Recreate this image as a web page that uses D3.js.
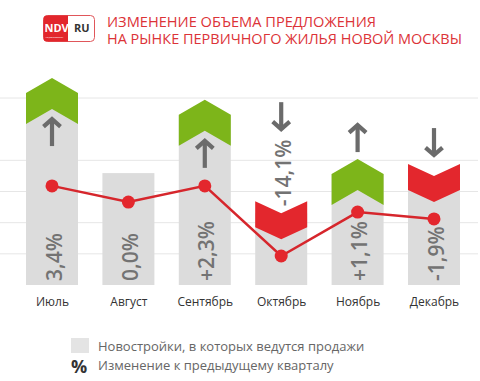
<!DOCTYPE html>
<html><head><meta charset="utf-8">
<script src="https://cdn.jsdelivr.net/npm/d3@7/dist/d3.min.js"></script>
<style>html,body{margin:0;padding:0;background:#fff;}svg{display:block;}</style>
</head><body>
<script>
const months = ["Июль","Август","Сентябрь","Октябрь","Ноябрь","Декабрь"];
const supply = [66.4, 35.9, 59.4, 26.9, 40.4, 38.8];      // column top (incl. chevron)
const change = [3.4, 0.0, 2.3, -14.1, 1.1, -1.9];
const changeLabels = ["3,4%","0,0%","+2,3%","-14,1%","+1,1%","-1,9%"];
const lineValues = [31.8, 26.6, 31.8, 9.3, 23.4, 21.2];
const gridTicks = [10, 20, 30, 40, 60];
const titleLines = ["ИЗМЕНЕНИЕ ОБЪЕМА ПРЕДЛОЖЕНИЯ","НА РЫНКЕ ПЕРВИЧНОГО ЖИЛЬЯ НОВОЙ МОСКВЫ"];
const legendItems = ["Новостройки, в которых ведутся продажи","Изменение к предыдущему кварталу"];

const W = 480, H = 381;
const FONT = "'Open Sans', sans-serif";
const GREEN = "#7db51a", RED = "#e3272d", GRAY = "#dcdcdc", ARROW = "#6b6b6b", LINE = "#d6262c";

const svg = d3.select("body").append("svg").attr("width", W).attr("height", H);

const x = d3.scalePoint().domain(months).range([52, 434]);
const y = d3.scaleLinear().domain([0, 60]).range([285, 98]);
const bw = 52;

// gridlines
svg.append("g").selectAll("line").data(gridTicks).join("line")
  .attr("x1", 0).attr("x2", 478)
  .attr("y1", d => y(d)).attr("y2", d => y(d))
  .attr("stroke", "#e6e6e6").attr("stroke-width", 1);

const data = months.map((m, i) => ({m, top: supply[i], ch: change[i], lab: changeLabels[i], lv: lineValues[i]}));

const UP_TIP = 15, UP_TH = 31, DN_NOTCH = 12, DN_TH = 26;

const g = svg.append("g");
data.forEach(d => {
  const cx = x(d.m), x0 = cx - bw/2, x1 = cx + bw/2, t = y(d.top), b = y(0);
  let grayTop = t;
  if (d.ch > 0) grayTop = t + UP_TIP;
  else if (d.ch < 0) grayTop = t + DN_NOTCH;
  g.append("rect").attr("x", x0).attr("y", grayTop).attr("width", bw).attr("height", b - grayTop).attr("fill", GRAY);
  if (d.ch > 0) {
    const pts = [[x0, t+UP_TIP],[cx, t],[x1, t+UP_TIP],[x1, t+UP_TIP+UP_TH],[cx, t+UP_TH],[x0, t+UP_TIP+UP_TH]];
    g.append("path").attr("d", d3.line()(pts) + "Z").attr("fill", GREEN);
  } else if (d.ch < 0) {
    const pts = [[x0, t],[cx, t+DN_NOTCH],[x1, t],[x1, t+DN_TH],[cx, t+DN_NOTCH+DN_TH],[x0, t+DN_TH]];
    g.append("path").attr("d", d3.line()(pts) + "Z").attr("fill", RED);
  }
});

// arrows
function arrow(cx, yTop, yBot, up) {
  const a = svg.append("g").attr("stroke", ARROW).attr("stroke-width", 4.2).attr("fill", "none").attr("stroke-linecap", "butt");
  a.append("line").attr("x1", cx).attr("x2", cx).attr("y1", yTop + (up ? 1 : 0)).attr("y2", yBot - (up ? 0 : 1));
  const hs = 8.5;
  if (up) a.append("path").attr("d", d3.line()([[cx-hs, yTop+hs],[cx, yTop+1],[cx+hs, yTop+hs]])).attr("stroke-linejoin","miter");
  else a.append("path").attr("d", d3.line()([[cx-hs, yBot-hs],[cx, yBot-1],[cx+hs, yBot-hs]])).attr("stroke-linejoin","miter");
}

const LABEL_LEN = 67;
data.forEach(d => {
  const cx = x(d.m), t = y(d.top), b = y(0);
  const lx = cx + 2;
  const inside = (d.ch >= 0) || (b - (t + DN_TH) > LABEL_LEN);
  let labelStart = inside ? b - 4 : t + 5;
  svg.append("text")
    .attr("transform", `translate(${lx},${labelStart}) rotate(-90)`)
    .attr("dy", "0.36em")
    .attr("font-family", FONT).attr("font-size", 21).attr("font-weight", 600).attr("fill", "#737373")
    .text(d.lab);
  if (d.ch === 0) return;
  const tall = (b - t) > 150;
  const len = 28;
  if (d.ch > 0) {
    if (tall) { const s = t + UP_TH + 9; arrow(cx, s, s + len, true); }
    else { const e = t - 7; arrow(cx, e - len, e, true); }
  } else {
    if (inside) { const e = t - 8; arrow(cx, e - len, e, false); }
    else { const e = labelStart - LABEL_LEN - 9; arrow(cx, e - len, e, false); }
  }
});

// line
svg.append("path").datum(data)
  .attr("d", d3.line().x(d => x(d.m)).y(d => y(d.lv)))
  .attr("fill", "none").attr("stroke", LINE).attr("stroke-width", 2.5);
svg.append("g").selectAll("circle").data(data).join("circle")
  .attr("cx", d => x(d.m)).attr("cy", d => y(d.lv)).attr("r", 6.5).attr("fill", RED);

// x axis labels
const xAxis = d3.axisBottom(x).tickSize(0).tickPadding(0);
const ax = svg.append("g").attr("transform", "translate(0,297)").call(xAxis);
ax.select(".domain").remove();
ax.selectAll("text").attr("font-family", FONT).attr("font-size", 12).attr("fill", "#333").attr("dy", "0.71em");

// title
const titleWidths = [269, 355];
svg.append("g").selectAll("text").data(titleLines).join("text")
  .attr("x", 107).attr("y", (d, i) => 26.5 + i * 17)
  .attr("font-family", FONT).attr("font-size", 13.8).attr("fill", "#dc3338")
  .attr("textLength", (d, i) => titleWidths[i]).attr("lengthAdjust", "spacingAndGlyphs")
  .text(d => d);

// logo
const logo = svg.append("g");
logo.append("rect").attr("x", 43.5).attr("y", 15.5).attr("width", 51).attr("height", 26).attr("rx", 4)
  .attr("fill", "#fff").attr("stroke", "#e0565a").attr("stroke-width", 1);
logo.append("path").attr("d", "M47,15.5 H68 V41.5 H47 Q43.5,41.5 43.5,38 V19 Q43.5,15.5 47,15.5 Z").attr("fill", "#e2262c");
const lt = logo.append("text").attr("y", 32).attr("font-family", FONT).attr("font-weight", 700).attr("font-size", 11);
lt.append("tspan").attr("x", 44.5).attr("fill", "#fff").text("NDV.");
lt.append("tspan").attr("x", 74).attr("fill", "#333").text("RU");
logo.append("text").attr("x", 45.5).attr("y", 37.5).attr("font-family", FONT)
  .attr("font-size", 2.5).attr("fill", "#fff").text("недвижимость");

// legend
const lg = svg.append("g");
lg.append("rect").attr("x", 71).attr("y", 338).attr("width", 18).attr("height", 15).attr("fill", "#e4e4e4");
lg.append("text").attr("x", 71).attr("y", 373).attr("font-family", FONT).attr("font-weight", 700)
  .attr("font-size", 18).attr("fill", "#333").text("%");
lg.selectAll("text.li").data(legendItems).join("text").attr("class", "li")
  .attr("x", 98).attr("y", (d, i) => 351 + i * 19)
  .attr("font-family", FONT).attr("font-size", 13).attr("fill", "#666").text(d => d);
</script>
</body></html>
